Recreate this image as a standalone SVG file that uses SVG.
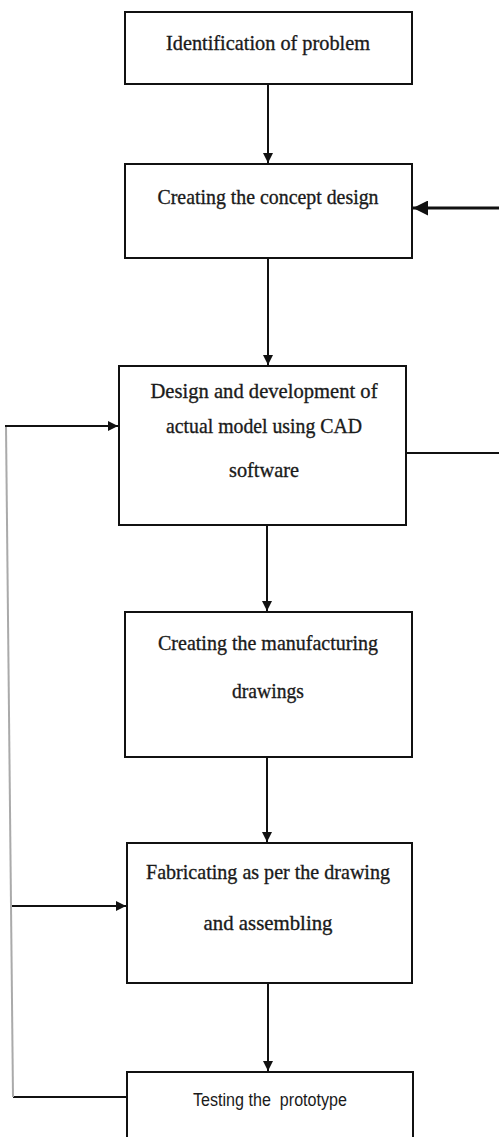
<svg xmlns="http://www.w3.org/2000/svg" width="499" height="1137" viewBox="0 0 499 1137">
<defs>
<style>
.box{fill:#fff;stroke:#111;stroke-width:2}
.t{font-family:"Liberation Serif",serif;font-size:22px;fill:#1a1a1a;stroke:#1a1a1a;stroke-width:0.35;text-anchor:middle}
.s{font-family:"Liberation Sans",sans-serif;font-size:18px;fill:#1a1a1a;text-anchor:middle}
.c{fill:none;stroke:#111;stroke-width:2}
</style>
<marker id="ah" viewBox="0 0 10 10" refX="10" refY="5" markerWidth="5" markerHeight="5" markerUnits="strokeWidth" orient="auto">
<path d="M0,0 L10,5 L0,10 z" fill="#111"/>
</marker>
</defs>
<rect width="499" height="1137" fill="#fff"/>
<g id="connectors">
<line class="c" x1="268" y1="84" x2="268" y2="163" marker-end="url(#ah)"/>
<line class="c" x1="499" y1="208" x2="413" y2="208" marker-end="url(#ah)" style="stroke-width:3"/>
<line class="c" x1="268" y1="258" x2="268" y2="365" marker-end="url(#ah)"/>
<line class="c" x1="406" y1="453" x2="499" y2="453"/>
<line class="c" x1="267" y1="525" x2="267" y2="611" marker-end="url(#ah)"/>
<line class="c" x1="267" y1="757" x2="267" y2="842" marker-end="url(#ah)"/>
<line class="c" x1="268" y1="983" x2="268" y2="1071" marker-end="url(#ah)"/>
<path d="M127,1097 L13,1097" class="c"/>
<path d="M13,1097 L6,426" fill="none" stroke="#aaa" stroke-width="2"/>
<line class="c" x1="5" y1="426" x2="118" y2="426" marker-end="url(#ah)"/>
<line class="c" x1="12" y1="906" x2="126" y2="906" marker-end="url(#ah)"/>
</g>
<g id="n1">
<rect class="box" x="125" y="12" width="287" height="72"/>
<text class="t" x="268" y="50" textLength="204" lengthAdjust="spacingAndGlyphs">Identification of problem</text>
</g>
<g id="n2">
<rect class="box" x="125" y="164" width="287" height="94"/>
<text class="t" x="268" y="204" textLength="221" lengthAdjust="spacingAndGlyphs">Creating the concept design</text>
</g>
<g id="n3">
<rect class="box" x="119" y="366" width="287" height="159"/>
<text class="t" x="264" y="398" textLength="227" lengthAdjust="spacingAndGlyphs">Design and development of</text>
<text class="t" x="264" y="433" textLength="196" lengthAdjust="spacingAndGlyphs">actual model using CAD</text>
<text class="t" x="264" y="477" textLength="70" lengthAdjust="spacingAndGlyphs">software</text>
</g>
<g id="n4">
<rect class="box" x="125" y="612" width="287" height="145"/>
<text class="t" x="268" y="650" textLength="220" lengthAdjust="spacingAndGlyphs">Creating the manufacturing</text>
<text class="t" x="268" y="698" textLength="72" lengthAdjust="spacingAndGlyphs">drawings</text>
</g>
<g id="n5">
<rect class="box" x="127" y="843" width="285" height="140"/>
<text class="t" x="268" y="879" textLength="244" lengthAdjust="spacingAndGlyphs">Fabricating as per the drawing</text>
<text class="t" x="268" y="930" textLength="129" lengthAdjust="spacingAndGlyphs">and assembling</text>
</g>
<g id="n6">
<rect class="box" x="127" y="1072" width="286" height="80"/>
<text class="s" x="270" y="1106" textLength="154" lengthAdjust="spacingAndGlyphs" xml:space="preserve">Testing the  prototype</text>
</g>
</svg>
